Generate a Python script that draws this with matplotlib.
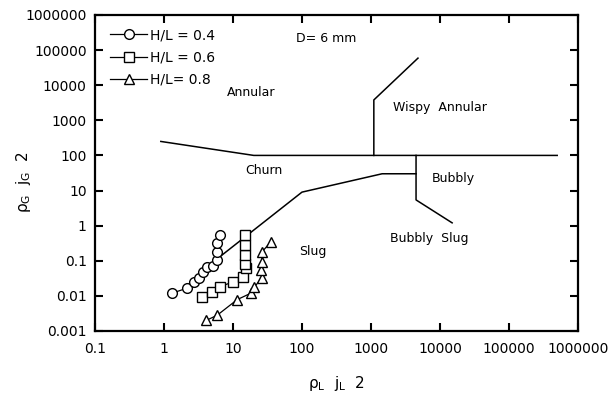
import matplotlib
matplotlib.use("Agg")
import matplotlib.pyplot as plt
from matplotlib.ticker import FixedLocator, FixedFormatter, NullLocator

# Measured points, x = rho_L j_L^2, y = rho_G j_G^2
hl04_x = [1.29, 2.13, 2.75, 3.25, 3.72, 4.25, 5.08, 5.8, 5.8, 5.8, 6.5]
hl04_y = [0.0118, 0.0164, 0.0243, 0.0328, 0.0487, 0.0675, 0.072, 0.105, 0.174, 0.313, 0.54]

hl06_x = [3.6, 4.9, 6.5, 10.1, 14.1, 15.2, 14.9, 14.7, 14.7, 14.7]
hl06_y = [0.0095, 0.0131, 0.0182, 0.0252, 0.035, 0.061, 0.079, 0.145, 0.28, 0.54]

hl08_x = [4.1, 5.9, 11.5, 18.0, 20.5, 26.0, 25.5, 26.0, 26.5, 35.0]
hl08_y = [0.002, 0.0028, 0.0078, 0.0118, 0.018, 0.032, 0.054, 0.09, 0.18, 0.34]

# Flow-regime transition boundaries
annular_churn_x = [0.9, 20, 5e5]
annular_churn_y = [250, 100, 100]

wispy_x = [1100, 1100, 4800]
wispy_y = [100, 3800, 59000]

slug_x = [4.0, 100, 1450, 4500]
slug_y = [0.062, 9, 30, 30]

bubbly_x = [4500, 4500, 15000]
bubbly_y = [100, 5.4, 1.2]

decade_ticks_x = [0.1, 1, 10, 100, 1000, 10000, 100000, 1000000]
decade_labels_x = ["0.1", "1", "10", "100", "1000", "10000", "100000", "1000000"]
decade_ticks_y = [0.001, 0.01, 0.1, 1, 10, 100, 1000, 10000, 100000, 1000000]
decade_labels_y = ["0.001", "0.01", "0.1", "1", "10", "100", "1000", "10000", "100000", "1000000"]

regions = [
    ("Annular", 18.5, 6000),
    ("Wispy  Annular", 1.0e4, 2250),
    ("Churn", 28, 38),
    ("Bubbly", 15700, 22.7),
    ("Bubbly  Slug", 7100, 0.44),
    ("Slug", 144, 0.18),
]

plt.rcParams["font.family"] = ["DejaVu Sans"]

fig = plt.figure(figsize=(6.1, 3.94), dpi=100)
ax = fig.add_axes([0.1557, 0.160, 0.7918, 0.802])
ax.set_xscale("log")
ax.set_yscale("log")
ax.set_xlim(0.1, 1e6)
ax.set_ylim(0.001, 1e6)

for bx, by in [(annular_churn_x, annular_churn_y), (wispy_x, wispy_y),
               (slug_x, slug_y), (bubbly_x, bubbly_y)]:
    ax.plot(bx, by, color="black", lw=1.1, zorder=2)

mk = dict(color="black", lw=0.9, markerfacecolor="white",
          markeredgecolor="black", markeredgewidth=1.0, zorder=3)
ax.plot(hl04_x, hl04_y, marker="o", markersize=7, label="H/L = 0.4", **mk)
ax.plot(hl06_x, hl06_y, marker="s", markersize=7, label="H/L = 0.6", **mk)
ax.plot(hl08_x, hl08_y, marker="^", markersize=7.5, label="H/L= 0.8", **mk)

for name, tx, ty in regions:
    ax.text(tx, ty, name, ha="center", va="center", fontsize=9)
ax.text(82, 2.1e5, "D= 6 mm", ha="left", va="center", fontsize=9)

ax.xaxis.set_major_locator(FixedLocator(decade_ticks_x))
ax.xaxis.set_major_formatter(FixedFormatter(decade_labels_x))
ax.yaxis.set_major_locator(FixedLocator(decade_ticks_y))
ax.yaxis.set_major_formatter(FixedFormatter(decade_labels_y))
ax.xaxis.set_minor_locator(NullLocator())
ax.yaxis.set_minor_locator(NullLocator())
ax.tick_params(which="major", direction="in", length=6, width=1.5,
               top=True, right=True, labelsize=10)
ax.tick_params(axis="x", pad=8)
ax.tick_params(axis="y", pad=6)
for sp in ax.spines.values():
    sp.set_linewidth(1.6)

ax.set_xlabel(r"$\mathregular{\rho_L\ \ j_L\ \ 2}$", fontsize=11, va="center")
ax.xaxis.set_label_coords(0.5, -0.165)
ax.set_ylabel(r"$\mathregular{\rho_G\ \ j_G\ \ 2}$", fontsize=11, va="center")
ax.yaxis.set_label_coords(-0.148, 0.47)

ax.legend(loc="upper left", bbox_to_anchor=(0.031, 0.958), frameon=False,
          fontsize=10, handlelength=2.7, handletextpad=0.2, labelspacing=0.6,
          borderpad=0, borderaxespad=0, numpoints=1)

fig.savefig("out.png", dpi=100)
